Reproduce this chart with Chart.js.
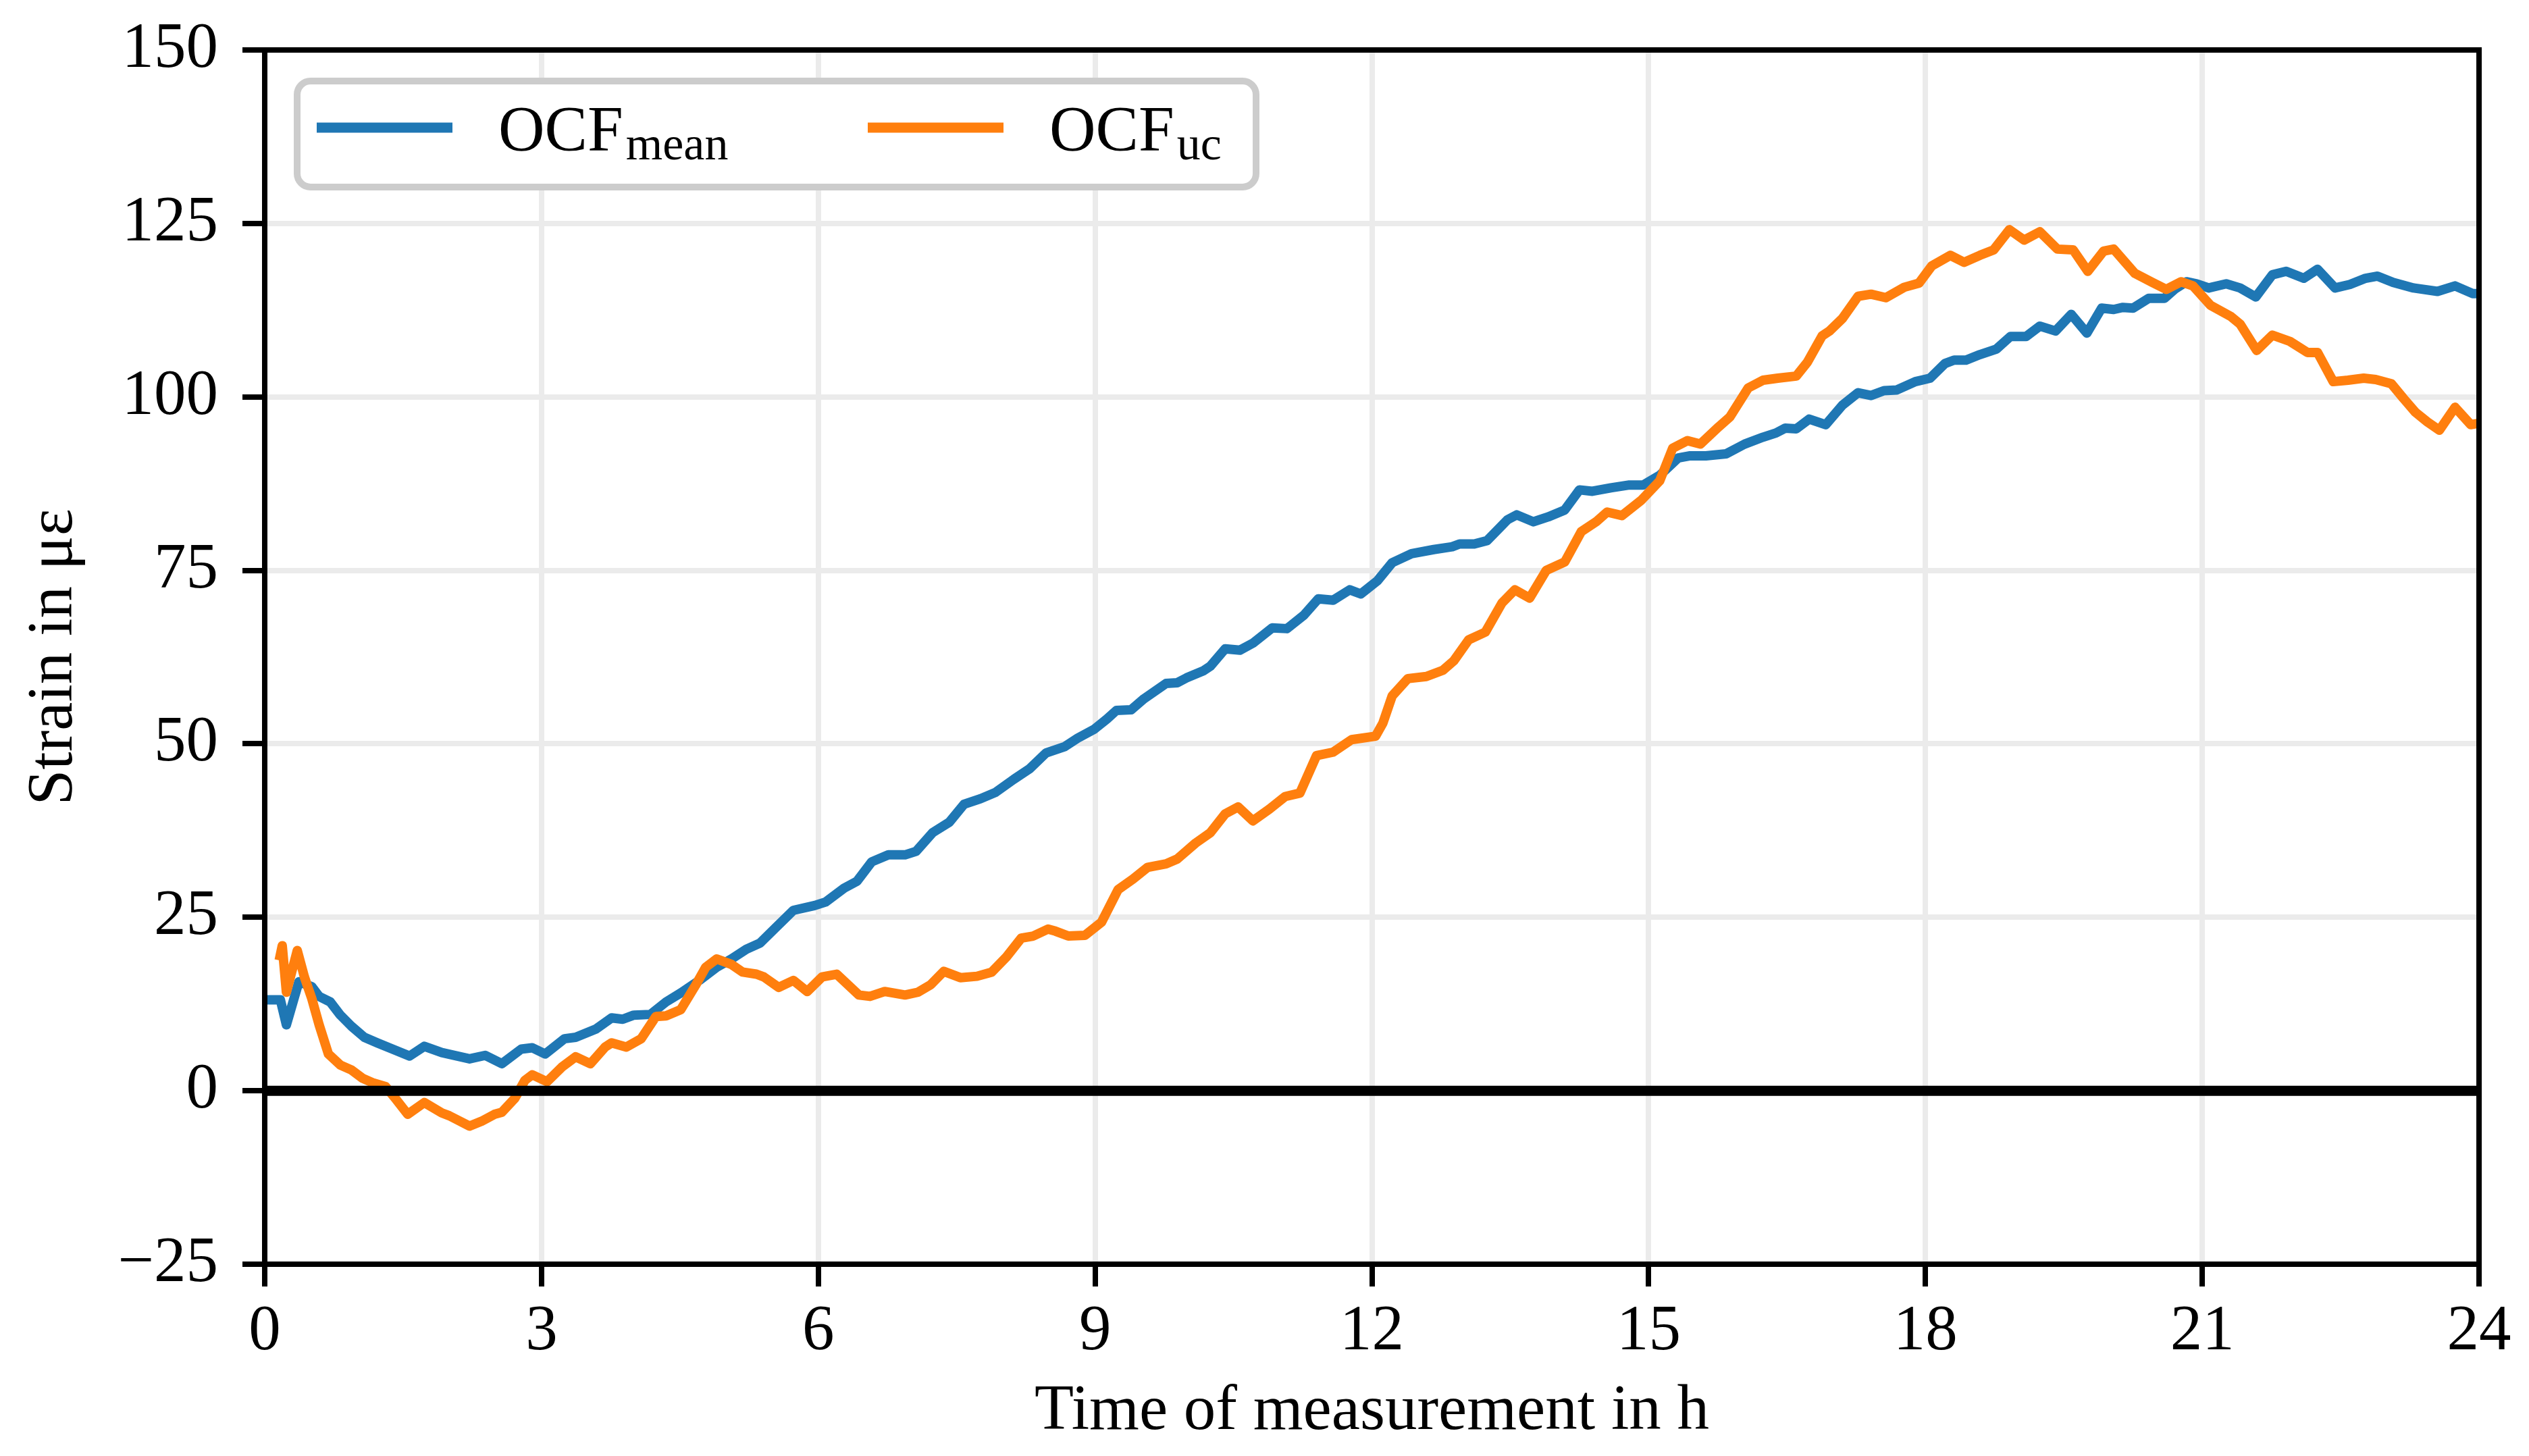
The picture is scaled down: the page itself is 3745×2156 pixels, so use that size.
<!DOCTYPE html>
<html>
<head>
<meta charset="utf-8">
<title>Strain over time of measurement</title>
<script src="https://cdn.jsdelivr.net/npm/chart.js@4.4.1/dist/chart.umd.min.js"></script>
<style>
    html, body { margin: 0; padding: 0; background: #ffffff; }
    canvas { display: block; }
</style>
</head>
<body>
<canvas id="strainChart" width="3745" height="2156"></canvas>
<script>
// time in h, strain in µε
const meanTime = [
    0, 0.17, 0.235, 0.37, 0.51, 0.59, 0.71, 0.82, 0.94, 1.08, 1.22, 1.35, 1.57, 1.73, 1.92, 2.22, 2.39, 2.57, 2.78, 2.9,
    3.04, 3.25, 3.37, 3.59, 3.76, 3.88, 4.0, 4.18, 4.35, 4.51, 4.71, 4.9, 5.06, 5.22, 5.37, 5.53, 5.73, 5.96,
    6.08, 6.28, 6.42, 6.58, 6.76, 6.94, 7.06, 7.24, 7.42, 7.58, 7.76, 7.92, 8.12, 8.29, 8.47, 8.67, 8.81, 8.99,
    9.13, 9.23, 9.39, 9.53, 9.77, 9.89, 9.99, 10.17, 10.25, 10.41, 10.57, 10.71, 10.92, 11.08, 11.26, 11.42, 11.58, 11.76, 11.88,
    12.06, 12.22, 12.43, 12.67, 12.87, 12.95, 13.11, 13.25, 13.47, 13.57, 13.75, 13.91, 14.09, 14.25, 14.39, 14.59, 14.79, 14.94,
    15.12, 15.32, 15.44, 15.62, 15.84, 16.04, 16.24, 16.38, 16.48, 16.6, 16.74, 16.92, 17.1, 17.27, 17.41, 17.55, 17.69, 17.89, 18.05,
    18.21, 18.31, 18.44, 18.59, 18.77, 18.92, 19.09, 19.24, 19.41, 19.58, 19.75, 19.91, 20.04, 20.14, 20.25, 20.42, 20.59, 20.7,
    20.83, 20.94, 21.07, 21.26, 21.41, 21.58, 21.76, 21.91, 22.1, 22.25, 22.44, 22.6, 22.77, 22.9, 23.07, 23.29, 23.55, 23.74, 23.93, 24.0
];
const meanStrain = [
    13.1, 13.1, 9.5, 15.7, 15.0, 13.6, 12.8, 10.9, 9.3, 7.7, 6.9, 6.2, 5.0, 6.4, 5.5, 4.6, 5.1, 3.9, 6.0, 6.2,
    5.3, 7.5, 7.7, 8.9, 10.5, 10.3, 10.9, 11.0, 12.8, 14.1, 15.9, 17.8, 19.0, 20.4, 21.3, 23.4, 26.0, 26.7,
    27.2, 29.2, 30.2, 33.0, 34.0, 34.0, 34.5, 37.2, 38.7, 41.3, 42.1, 43.0, 44.9, 46.4, 48.7, 49.6, 50.8, 52.1,
    53.6, 54.8, 54.9, 56.5, 58.7, 58.8, 59.5, 60.5, 61.2, 63.7, 63.5, 64.5, 66.7, 66.6, 68.5, 70.9, 70.7, 72.2, 71.6,
    73.5, 76.1, 77.4, 78.0, 78.4, 78.8, 78.8, 79.3, 82.3, 83.0, 82.0, 82.7, 83.7, 86.6, 86.4, 86.9, 87.3, 87.3,
    88.7, 91.2, 91.5, 91.5, 91.8, 93.2, 94.2, 94.8, 95.5, 95.4, 96.8, 96.0, 98.8, 100.6, 100.2, 100.9, 101.0, 102.2, 102.7,
    104.8, 105.3, 105.3, 106.1, 106.9, 108.7, 108.7, 110.2, 109.5, 111.9, 109.2, 112.8, 112.6, 112.9, 112.8, 114.2, 114.2, 115.5,
    116.6, 116.3, 115.7, 116.3, 115.7, 114.4, 117.6, 118.1, 117.1, 118.4, 115.7, 116.2, 117.1, 117.4, 116.5, 115.7, 115.2, 116.0, 114.9, 114.9
];
const ucTime = [
    0.157, 0.19, 0.235, 0.353, 0.43, 0.51, 0.59, 0.69, 0.82, 0.94, 1.06, 1.18, 1.31, 1.41, 1.55, 1.73, 1.92, 2.0, 2.22, 2.35,
    2.49, 2.57, 2.71, 2.82, 2.9, 3.06, 3.22, 3.37, 3.53, 3.69, 3.76, 3.92, 4.08, 4.24, 4.35, 4.51, 4.67, 4.78, 4.9, 5.06,
    5.18, 5.33, 5.41, 5.57, 5.73, 5.88, 6.04, 6.2, 6.28, 6.44, 6.56, 6.72, 6.94, 7.08, 7.22, 7.36, 7.54, 7.72, 7.88, 8.04,
    8.2, 8.33, 8.49, 8.57, 8.71, 8.89, 9.07, 9.25, 9.41, 9.57, 9.77, 9.89, 10.09, 10.25, 10.41, 10.55, 10.71, 10.89, 11.06, 11.22,
    11.4, 11.58, 11.78, 12.04, 12.12, 12.22, 12.39, 12.59, 12.77, 12.89, 13.05, 13.23, 13.41, 13.55, 13.71, 13.89, 14.09, 14.27,
    14.43, 14.55, 14.71, 14.92, 15.12, 15.26, 15.42, 15.56, 15.76, 15.88, 16.08, 16.24, 16.4, 16.6, 16.72, 16.88, 16.96, 17.1,
    17.27, 17.41, 17.57, 17.77, 17.93, 18.07, 18.27, 18.42, 18.59, 18.74, 18.91, 19.07, 19.24, 19.43, 19.6, 19.76, 19.93, 20.04,
    20.27, 20.46, 20.61, 20.77, 20.9, 21.09, 21.31, 21.41, 21.59, 21.76, 21.95, 22.14, 22.25, 22.42, 22.58, 22.75, 22.88, 23.05,
    23.18, 23.31, 23.44, 23.57, 23.74, 23.91, 24.0
];
const ucStrain = [
    18.8, 20.9, 14.2, 20.2, 16.4, 13.3, 9.5, 5.3, 3.7, 3.0, 1.8, 1.1, 0.6, -1.0, -3.4, -1.7, -3.2, -3.6, -5.1, -4.4,
    -3.4, -3.1, -1.1, 1.5, 2.3, 1.3, 3.4, 4.9, 3.9, 6.3, 6.9, 6.3, 7.5, 10.7, 10.8, 11.7, 15.2, 17.8, 19.0, 18.2,
    17.1, 16.8, 16.4, 14.9, 15.9, 14.3, 16.4, 16.8, 15.8, 13.8, 13.6, 14.3, 13.8, 14.2, 15.3, 17.2, 16.3, 16.5, 17.1, 19.3,
    22.0, 22.3, 23.3, 23.0, 22.3, 22.4, 24.3, 29.0, 30.5, 32.2, 32.7, 33.4, 35.7, 37.2, 39.9, 40.9, 38.9, 40.6, 42.4, 42.9,
    48.3, 48.8, 50.6, 51.1, 53.0, 56.9, 59.4, 59.7, 60.6, 62.0, 65.0, 66.1, 70.3, 72.2, 71.0, 75.0, 76.2, 80.6,
    82.0, 83.4, 82.9, 85.1, 87.9, 92.6, 93.7, 93.2, 95.7, 97.1, 101.3, 102.4, 102.7, 103.0, 105.0, 108.8, 109.5, 111.3,
    114.5, 114.8, 114.3, 115.8, 116.4, 118.9, 120.4, 119.4, 120.4, 121.2, 124.1, 122.6, 123.8, 121.3, 121.2, 118.1, 121.0, 121.3,
    117.8, 116.5, 115.5, 116.6, 116.0, 113.2, 111.6, 110.5, 106.7, 108.9, 108.0, 106.4, 106.4, 102.2, 102.4, 102.7, 102.5, 101.9,
    99.8, 97.8, 96.4, 95.2, 98.5, 96.0, 96.2
];
const zeroTime = [0, 24];
const zeroStrain = [0, 0];

const xTickValues = [0, 3, 6, 9, 12, 15, 18, 21, 24];
const yTickValues = [-25, 0, 25, 50, 75, 100, 125, 150];
const legendBase = ['OCF', 'OCF'];
const legendSub = ['mean', 'uc'];
const seriesColors = ['#1f77b4', '#ff7f0e'];

const FONT_FAMILY = '"Liberation Serif", "Times New Roman", serif';
const FONT_SIZE = 95;
const LINE_WIDTH = 14;

function toPoints(xs, ys) {
    return xs.map((x, i) => ({ x, y: ys[i] }));
}

function formatStrainTick(value) {
    return value < 0 ? '\u2212' + Math.abs(value) : String(value);
}

// top/right spines are not part of Chart.js scales, so the whole frame is stroked here
const framePlugin = {
    id: 'axesFrame',
    afterDatasetsDraw(chart) {
        const { ctx, chartArea } = chart;
        ctx.save();
        ctx.strokeStyle = '#000000';
        ctx.lineWidth = 8;
        ctx.strokeRect(chartArea.left, chartArea.top, chartArea.right - chartArea.left, chartArea.bottom - chartArea.top);
        ctx.restore();
    }
};

// legend with subscripts (OCF_mean, OCF_uc)
const subscriptLegendPlugin = {
    id: 'subscriptLegend',
    afterDraw(chart) {
        const { ctx, chartArea } = chart;
        const boxLeft = chartArea.left + 48;
        const boxTop = chartArea.top + 46;

        ctx.save();
        ctx.beginPath();
        ctx.roundRect(boxLeft, boxTop, 1420, 157, 20);
        ctx.fillStyle = '#ffffff';
        ctx.fill();
        ctx.lineWidth = 10;
        ctx.strokeStyle = '#cccccc';
        ctx.stroke();

        legendBase.forEach((base, i) => {
            const entryLeft = boxLeft + i * 816;
            const lineY = boxTop + 69;

            ctx.beginPath();
            ctx.moveTo(entryLeft + 29, lineY);
            ctx.lineTo(entryLeft + 230, lineY);
            ctx.strokeStyle = seriesColors[i];
            ctx.lineWidth = LINE_WIDTH + 1;
            ctx.stroke();

            const textX = entryLeft + 298;
            ctx.fillStyle = '#000000';
            ctx.textBaseline = 'alphabetic';
            ctx.textAlign = 'left';
            ctx.font = FONT_SIZE + 'px ' + FONT_FAMILY;
            ctx.fillText(base, textX, boxTop + 103);
            const baseWidth = ctx.measureText(base).width;
            ctx.font = '70px ' + FONT_FAMILY;
            ctx.fillText(legendSub[i], textX + baseWidth + 4, boxTop + 116);
        });
        ctx.restore();
    }
};

function renderStrainChart(canvasId) {
    const canvasElement = document.getElementById(canvasId);

    return new Chart(canvasElement, {
        type: 'line',
        data: {
            datasets: [
                {
                    label: 'zero',
                    data: toPoints(zeroTime, zeroStrain),
                    borderColor: '#000000',
                    borderWidth: 15,
                    order: 1
                },
                {
                    label: legendBase[1] + legendSub[1],
                    data: toPoints(ucTime, ucStrain),
                    borderColor: seriesColors[1],
                    borderWidth: LINE_WIDTH,
                    order: 2
                },
                {
                    label: legendBase[0] + legendSub[0],
                    data: toPoints(meanTime, meanStrain),
                    borderColor: seriesColors[0],
                    borderWidth: LINE_WIDTH,
                    order: 3
                }
            ]
        },
        options: {
            responsive: false,
            animation: false,
            devicePixelRatio: 1,
            layout: {
                padding: { top: 74, right: 74, left: 0, bottom: 0 }
            },
            elements: {
                point: { radius: 0 },
                line: { tension: 0, borderJoinStyle: 'round', borderCapStyle: 'butt', fill: false }
            },
            plugins: {
                legend: { display: false },
                tooltip: { enabled: false }
            },
            scales: {
                x: {
                    type: 'linear',
                    min: 0,
                    max: 24,
                    afterBuildTicks: (scale) => {
                        scale.ticks = xTickValues.map((value) => ({ value }));
                    },
                    afterFit: (scale) => {
                        scale.height = 284;
                        scale.paddingLeft = 0;
                        scale.paddingRight = 0;
                    },
                    ticks: {
                        color: '#000000',
                        padding: 11,
                        maxRotation: 0,
                        font: { family: FONT_FAMILY, size: FONT_SIZE }
                    },
                    grid: {
                        color: '#ebebeb',
                        lineWidth: 8,
                        tickColor: '#000000',
                        tickWidth: 8,
                        tickLength: 33
                    },
                    border: { display: false },
                    title: {
                        display: true,
                        text: 'Time of measurement in h',
                        color: '#000000',
                        padding: { top: 0, bottom: 8 },
                        font: { family: FONT_FAMILY, size: FONT_SIZE }
                    }
                },
                y: {
                    type: 'linear',
                    min: -25,
                    max: 150,
                    afterBuildTicks: (scale) => {
                        scale.ticks = yTickValues.map((value) => ({ value }));
                    },
                    afterFit: (scale) => {
                        // keep the plot box where the reference has it
                        scale.width = 392;
                        scale.paddingTop = 0;
                        scale.paddingBottom = 0;
                    },
                    ticks: {
                        color: '#000000',
                        padding: 36,
                        font: { family: FONT_FAMILY, size: FONT_SIZE },
                        callback: (value) => formatStrainTick(value)
                    },
                    grid: {
                        color: '#ebebeb',
                        lineWidth: 8,
                        tickColor: '#000000',
                        tickWidth: 8,
                        tickLength: 33
                    },
                    border: { display: false },
                    title: {
                        display: true,
                        text: 'Strain in \u03bc\u03b5',
                        color: '#000000',
                        padding: { top: 24, bottom: 0 },
                        font: { family: FONT_FAMILY, size: FONT_SIZE }
                    }
                }
            }
        },
        plugins: [framePlugin, subscriptLegendPlugin]
    });
}

renderStrainChart('strainChart');
</script>
</body>
</html>
